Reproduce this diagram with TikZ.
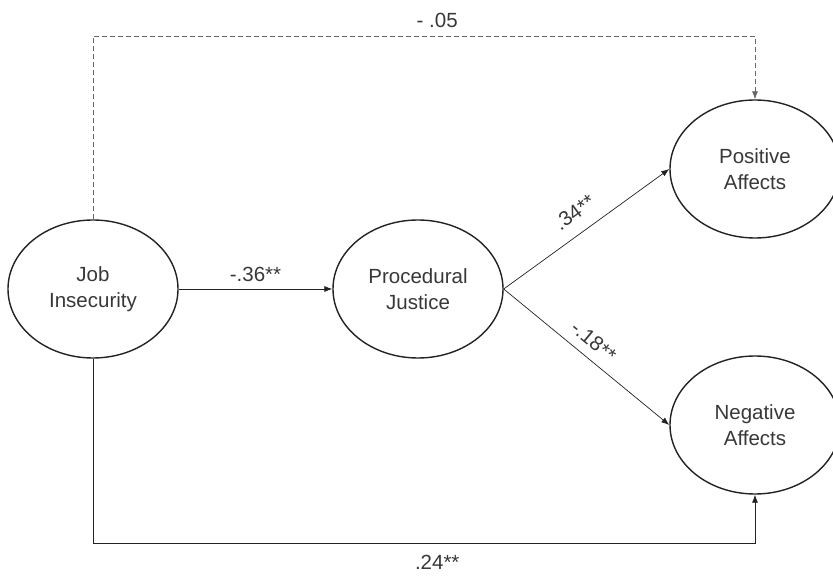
\documentclass[tikz,border=0pt]{standalone}
\usepackage{fontspec}
\setmainfont{Liberation Sans}
\usetikzlibrary{arrows.meta,shapes.geometric}
\definecolor{ink}{HTML}{222222}
\definecolor{dashgrey}{HTML}{666666}
\tikzset{
    latent/.style={ellipse,draw=ink,line width=1.4pt,minimum width=170pt,minimum height=138pt,
        inner sep=0pt,align=center,text=ink!90,font=\fontsize{20.5}{26}\selectfont},
    path arrow/.style={-{Latex[length=8pt,width=6pt]},draw=ink,line width=0.7pt},
    coef/.style={text=ink!90,font=\fontsize{20.5}{24}\selectfont,inner sep=3pt}
}
\begin{document}
\begin{tikzpicture}[x=1pt,y=-1pt]
    \useasboundingbox (0,0) rectangle (833,577);
    % Constructs
        \node[latent] (job) at (93,289) {Job\\Insecurity};
        \node[latent] (proc) at (418,289) {Procedural\\Justice};
        \node[latent] (pos) at (755,169) {Positive\\Affects};
        \node[latent] (neg) at (755,425) {Negative\\Affects};
    % Corners of the outer paths
        \coordinate (top) at (93,36);
        \coordinate (bottom) at (93,543);
    % Paths
        \draw[path arrow] (job) -- node[coef,above=4pt] {-.36**} (proc);
        \draw[path arrow] (proc.east) -- node[coef,above=10pt,sloped] {.34**} (pos.west);
        \draw[path arrow] (proc.east) -- node[coef,above=6pt,sloped,pos=0.48] {-.18**} (neg.west);
        \draw[path arrow,draw=dashgrey,dash pattern=on 5pt off 3pt] (job.north) -- (top)
            -| node[coef,above=5pt,pos=0.26] {- .05} (pos.north);
        \draw[path arrow] (job.south) -- (bottom)
            -| node[coef,below=9pt,pos=0.26] {.24**} (neg.south);
\end{tikzpicture}
\end{document}
